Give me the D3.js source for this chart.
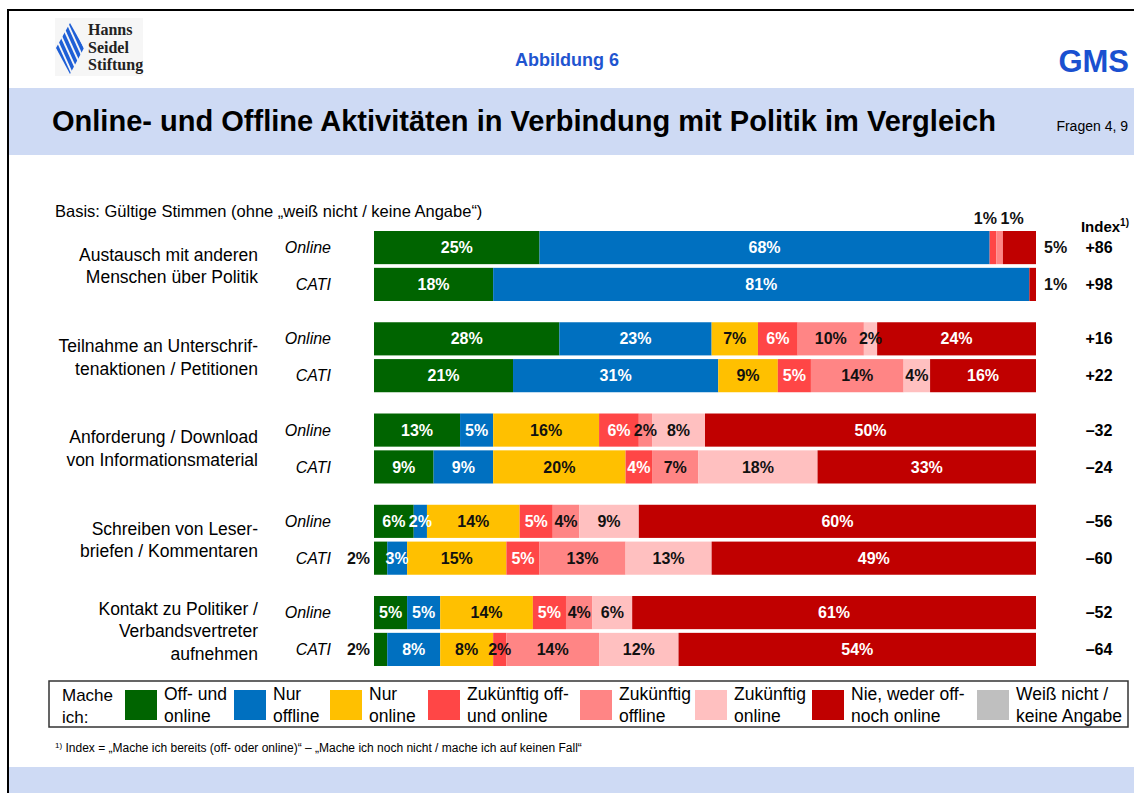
<!DOCTYPE html>
<html>
<head>
<meta charset="utf-8">
<script src="https://cdn.jsdelivr.net/npm/d3@7"></script>
<style>
  body { margin: 0; background: #fff; }
  svg { display: block; font-family: "Liberation Sans", Arial, sans-serif; }
</style>
</head>
<body>
<svg id="chart" width="1134" height="793"></svg>
<script>
// --- data ---
const categories = [
    ['Austausch mit anderen', 'Menschen über Politik'],
    ['Teilnahme an Unterschrif-', 'tenaktionen / Petitionen'],
    ['Anforderung / Download', 'von Informationsmaterial'],
    ['Schreiben von Leser-', 'briefen / Kommentaren'],
    ['Kontakt zu Politiker /', 'Verbandsvertreter', 'aufnehmen']
];
const modes = ['Online', 'CATI'];
const seriesNames = [
    ['Off- und', 'online'], ['Nur', 'offline'], ['Nur', 'online'],
    ['Zukünftig off-', 'und online'], ['Zukünftig', 'offline'], ['Zukünftig', 'online'],
    ['Nie, weder off-', 'noch online'], ['Weiß nicht /', 'keine Angabe']
];
const colors = ['#006400', '#0070c0', '#ffc000', '#ff4646', '#ff8585', '#ffc0c0', '#c00000', '#bfbfbf'];

// order: off+on, nur offline, nur online, zuk. off+on, zuk. offline, zuk. online, nie, weiß nicht
const onlineValues = [
    [25, 68, 0, 1, 1, 0, 5, 0],
    [28, 23, 7, 6, 10, 2, 24, 0],
    [13, 5, 16, 6, 2, 8, 50, 0],
    [6, 2, 14, 5, 4, 9, 60, 0],
    [5, 5, 14, 5, 4, 6, 61, 0]
];
const catiValues = [
    [18, 81, 0, 0, 0, 0, 1, 0],
    [21, 31, 9, 5, 14, 4, 16, 0],
    [9, 9, 20, 4, 7, 18, 33, 0],
    [2, 3, 15, 5, 13, 13, 49, 0],
    [2, 8, 8, 2, 14, 12, 54, 0]
];
const indexOnline = [86, 16, -32, -56, -52];
const indexCati = [98, 22, -24, -60, -64];

const rows = categories.flatMap((c, i) => [
    { group: i, mode: 'Online', values: onlineValues[i], index: indexOnline[i] },
    { group: i, mode: 'CATI', values: catiValues[i], index: indexCati[i] }
]);

const svg = d3.select('#chart');
const fmtIndex = v => (v > 0 ? '+' : '\u2013') + Math.abs(v);
const narrow = '"Liberation Sans Narrow", "Arial Narrow", "Liberation Sans", sans-serif';

// --- frame, header ---
svg.append('rect').attr('x', 8).attr('y', 10).attr('width', 1140).attr('height', 800)
    .attr('fill', '#fff').attr('stroke', '#000').attr('stroke-width', 2);

const logo = svg.append('g');
logo.append('rect').attr('x', 55).attr('y', 18).attr('width', 88).attr('height', 58).attr('fill', '#f6f6f6');
logo.append('clipPath').attr('id', 'diamond')
    .append('path').attr('d', 'M70,23 L84,48 L70,74 L56,48 Z');
logo.append('g').attr('clip-path', 'url(#diamond)')
    .selectAll('line').data(d3.range(-3, 4)).join('line')
        .attr('x1', d => 50 + d * 6).attr('y1', 18)
        .attr('x2', d => 78 + d * 6).attr('y2', 80)
        .attr('stroke', '#1f5fd6').attr('stroke-width', 3.6);
logo.selectAll('text').data(['Hanns', 'Seidel', 'Stiftung']).join('text')
    .attr('x', 88).attr('y', (d, i) => 35 + i * 17.5)
    .attr('font-family', '"Liberation Serif", "DejaVu Serif", serif')
    .attr('font-weight', 'bold').attr('font-size', 16).attr('fill', '#222')
    .text(d => d);

svg.append('text').attr('x', 567).attr('y', 66).attr('text-anchor', 'middle')
    .attr('font-weight', 'bold').attr('font-size', 18).attr('fill', '#1f55d0')
    .text('Abbildung 6');
svg.append('text').attr('x', 1129).attr('y', 72).attr('text-anchor', 'end')
    .attr('font-weight', 'bold').attr('font-size', 31).attr('fill', '#1a50d0')
    .text('GMS');

svg.append('rect').attr('x', 9).attr('y', 88).attr('width', 1125).attr('height', 67).attr('fill', '#cedaf4');
svg.append('text').attr('x', 52).attr('y', 131)
    .attr('font-family', narrow)
    .attr('font-weight', 'bold').attr('font-size', 29).attr('fill', '#000')
    .attr('textLength', 944).attr('lengthAdjust', 'spacingAndGlyphs')
    .text('Online- und Offline Aktivitäten in Verbindung mit Politik im Vergleich');
svg.append('text').attr('x', 1128).attr('y', 131).attr('text-anchor', 'end')
    .attr('font-family', narrow).attr('font-size', 14)
    .text('Fragen 4, 9');

svg.append('text').attr('x', 55).attr('y', 217).attr('font-size', 16.5)
    .text('Basis:  Gültige Stimmen (ohne \u201Eweiß nicht / keine Angabe\u201C)');

// --- scales ---
const x = d3.scaleLinear().domain([0, 100]).range([374, 1036]);
const yGroup = d3.scaleBand().domain(d3.range(categories.length)).range([231, 666]).paddingInner(0.233);
const yMode = d3.scaleBand().domain(modes).range([0, yGroup.bandwidth()]).paddingInner(0.1);
const barY = d => yGroup(d.group) + yMode(d.mode);
const barH = yMode.bandwidth();

const stack = d3.stack().keys(d3.range(colors.length)).value((d, k) => d.values[k]);
const layers = stack(rows);

const chart = svg.append('g');
chart.selectAll('g.layer').data(layers).join('g')
    .attr('class', 'layer').attr('fill', d => colors[d.key])
    .selectAll('rect').data(d => d).join('rect')
        .attr('x', d => x(d[0]))
        .attr('y', d => barY(d.data))
        .attr('width', d => x(d[1]) - x(d[0]))
        .attr('height', barH);

// --- segment labels ---
const labels = [];
rows.forEach((r, ri) => {
    let aboveCount = 0;
    const lastNonZero = d3.max(r.values.map((v, k) => v > 0 ? k : -1));
    layers.forEach(layer => {
        const k = layer.key;
        const d = layer[ri];
        const v = r.values[k];
        if (v <= 0) return;
        const cx = (x(d[0]) + x(d[1])) / 2;
        const cy = barY(r) + barH / 2;
        let lab = { text: v + '%', x: cx, y: cy, anchor: 'middle', fill: '#111' };
        if (k === 0 || k === 1 || k === 6) lab.fill = '#fff';
        if (k === 3 && v >= 4) lab.fill = '#fff';
        if (k === 0 && v <= 2) {
            lab = { ...lab, x: x(0) - 4, anchor: 'end', fill: '#111' };
        } else if (k === lastNonZero && v <= 5) {
            lab = { ...lab, x: x(100) + 8, anchor: 'start', fill: '#111' };
        } else if (v <= 1) {
            lab = { ...lab, y: barY(r) - 13, fill: '#111',
                    anchor: aboveCount === 0 ? 'end' : 'start',
                    x: aboveCount === 0 ? cx + 4 : cx + 1 };
            aboveCount++;
        }
        labels.push(lab);
    });
});

chart.selectAll('text.seg').data(labels).join('text')
    .attr('class', 'seg')
    .attr('x', d => d.x).attr('y', d => d.y).attr('dy', '0.35em')
    .attr('text-anchor', d => d.anchor)
    .attr('font-weight', 'bold').attr('font-size', 16)
    .attr('fill', d => d.fill)
    .text(d => d.text);

// --- row labels ---
chart.selectAll('text.mode').data(rows).join('text')
    .attr('class', 'mode')
    .attr('x', 331).attr('y', d => barY(d) + barH / 2).attr('dy', '0.35em')
    .attr('text-anchor', 'end').attr('font-style', 'italic').attr('font-size', 16)
    .text(d => d.mode);

chart.selectAll('text.cat').data(categories).join('text')
    .attr('class', 'cat')
    .attr('text-anchor', 'end').attr('font-size', 17.5)
    .each(function(lines, i) {
        const cy = yGroup(i) + yGroup.bandwidth() / 2;
        d3.select(this).selectAll('tspan').data(lines).join('tspan')
            .attr('x', 258)
            .attr('y', (l, j) => cy + (j - (lines.length - 1) / 2) * 22.5)
            .attr('dy', '0.35em')
            .text(l => l);
    });

// --- index column ---
const idx = svg.append('text').attr('x', 1129).attr('y', 232).attr('text-anchor', 'end')
    .attr('font-weight', 'bold').attr('font-size', 15);
idx.append('tspan').text('Index');
idx.append('tspan').attr('font-size', 10).attr('dy', -6).text('1)');

chart.selectAll('text.idx').data(rows).join('text')
    .attr('class', 'idx')
    .attr('x', 1099).attr('y', d => barY(d) + barH / 2).attr('dy', '0.35em')
    .attr('text-anchor', 'middle').attr('font-weight', 'bold').attr('font-size', 16)
    .text(d => fmtIndex(d.index));

// --- legend ---
const legendX = [125, 234, 330, 428, 580, 695, 812, 977];
const legend = svg.append('g');
legend.append('rect').attr('x', 49).attr('y', 681).attr('width', 1079).attr('height', 46)
    .attr('fill', '#fff').attr('stroke', '#333').attr('stroke-width', 1.5);
legend.append('text').attr('font-size', 17)
    .selectAll('tspan').data(['Mache', 'ich:']).join('tspan')
        .attr('x', 62).attr('y', (d, i) => 695 + i * 22).attr('dy', '0.35em')
        .text(d => d);
const items = legend.selectAll('g.item').data(seriesNames).join('g')
    .attr('class', 'item')
    .attr('transform', (d, i) => `translate(${legendX[i]},0)`);
items.append('rect').attr('x', 0).attr('y', 690).attr('width', 32).attr('height', 30)
    .attr('fill', (d, i) => colors[i]);
items.append('text').attr('font-size', 17.5)
    .selectAll('tspan').data(d => d).join('tspan')
        .attr('x', 39).attr('y', (d, i) => 694 + i * 22).attr('dy', '0.35em')
        .text(d => d);

// --- footnote and bottom band ---
const fn = svg.append('text').attr('x', 55).attr('y', 752).attr('font-size', 12);
fn.append('tspan').attr('font-size', 8).attr('dy', -4).text('1)');
fn.append('tspan').attr('dy', 4)
    .text(' Index = \u201EMache ich bereits (off- oder online)\u201C \u2013 \u201EMache ich noch nicht / mache ich auf keinen Fall\u201C');

svg.append('rect').attr('x', 9).attr('y', 767).attr('width', 1125).attr('height', 26).attr('fill', '#cedaf4');
</script>
</body>
</html>
